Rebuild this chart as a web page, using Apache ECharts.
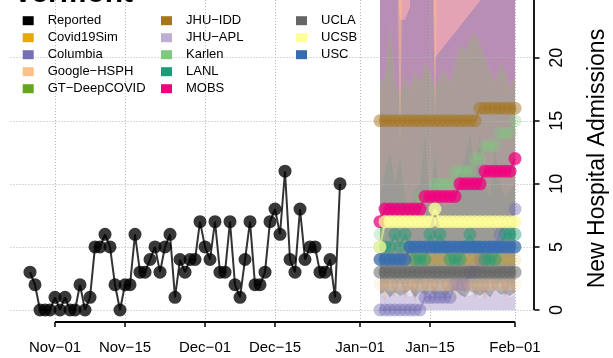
<!DOCTYPE html>
<html><head><meta charset="utf-8">
<script src="https://cdn.jsdelivr.net/npm/echarts@6/dist/echarts.min.js"></script>
<style>html,body{margin:0;padding:0;background:#fff}#c{width:613px;height:358px}</style>
</head><body><div id="c"></div>
<script>
// ---------------- data ----------------
const reportedStart = '2020-10-27';
const reportedValues = [3,2,0,0,0,
  1,0,1,0,0,2,0,1,5,5,6,5,2,0,2,2,6,3,3,4,5,3,5,6,1,4,3,4,4,7,
  5,4,7,3,3,7,2,1,4,7,2,2,3,7,8,6,11,4,3,8,4,5,5,3,3,4,1,10];
const forecastStart = '2021-01-05';
const forecastDays = 28;

const columbiaPts   = [0,0,0,0,0,0,0,0,0,1,1,1,1,1,1,2,2,2,3,3,4,4,5,5,6,7,7,8];
const covid19SimPts = [4,4,4,4,4,4,4,4,4,4,4,4,4,4,4,4,4,4,4,4,4,4,4,4,4,4,4,4];
const googleHsphPts = [2,2,2,2,2,2,2,2,2,2,2,2,2,2,2,2,2,2,2,2,2,2,2,2,2,2,2,2];
const jhuIddPts     = [15,15,15,15,15,15,15,15,15,15,15,15,15,15,15,15,15,15,15,15,16,16,16,16,16,16,16,16];
const karlenPts     = [6,7,7,7,8,8,8,8,9,9,9,10,10,10,10,11,11,11,11,12,12,13,13,13,14,14,14,15];
const lanlPts       = [5,5,5,6,5,6,5,4,4,4,6,5,6,5,4,4,4,5,6,5,5,4,4,4,5,6,6,6];
const mobsPts       = [7,8,8,8,8,8,8,8,8,9,9,9,9,9,9,9,10,10,10,10,10,11,11,11,11,11,11,12];
const uclaPts       = [3,3,3,3,3,3,3,3,3,3,3,3,3,3,3,3,3,3,3,3,3,3,3,3,3,3,3,3];
const ucsbPts       = [5,7,7,7,7,7,7,7,7,7,7,8,7,7,7,7,7,7,7,7,7,7,7,7,7,7,7,7];
const uscPts        = [4,4,4,4,4,4,5,5,5,5,5,5,5,5,5,5,5,5,5,5,5,5,5,5,5,5,5,5];

// prediction interval bounds
const gsphLower  = [1.5,0.7,2.2,1.0,2.4,0.9,1.8,0.6,2.3,1.2,2.0,0.8,2.5,1.1,1.6,0.7,2.2,1.3,2.4,0.9,1.7,0.8,2.1,1.4,2.3,1.0,1.9,1.2];
const gsphUpper  = [40,40,40,40,40,40,40,40,40,40,40,40,40,40,40,40,40,40,40,40,40,40,40,40,40,40,40,40];
const gsphDipLower = [40,40,40,40,13,40,40,40,40,40,40,15,40,40,40,40,40,40,40,40,40,40,40,40,40,40,40,40];
const colLower   = [0,0,0,0,0,0,0,0,0,0,0,0,0,0,0,0,0,0,0,0,0,0,0,0,0,0,0,0];
const colUpper   = [40,40,40,40,40,40,40,40,40,40,40,40,40,40,40,40,40,40,40,40,40,40,40,40,40,40,40,40];
const colHigh    = [40,40,40,30,23,23,24,40,40,40,40,20,20.5,21,21.5,22,22.5,23,23.5,24,24.5,25.5,40,40,40,40,40,40];
const aplUpper   = [1.3,1.0,1.5,1.2,1.1,1.4,1.0,1.3,1.2,1.5,1.1,1.0,1.4,1.2,1.3,1.0,1.5,1.2,1.1,1.4,1.0,1.3,1.2,1.5,1.1,1.4,1.0,1.2];
const lanlLower  = [2.4,1.8,2.6,2.0,2.2,1.7,2.5,2.1,1.9,2.6,2.0,2.3,1.8,2.4,2.1,2.6,1.9,2.2,2.5,1.8,2.3,2.0,2.6,1.9,2.2,2.4,1.8,2.1];
const lanlUpper  = [9,11,12.5,10,12,9,8,9.5,10,14,8.5,12.5,9,8,9,10,11,12,14,11,14,10,9,13,10,9,9.5,10];
const uclaLower  = [1.2,1.5,1.0,1.4,1.1,1.3,1.6,1.0,1.4,1.2,1.5,1.1,1.3,1.0,1.4,1.6,1.2,1.0,1.5,1.3,1.1,1.4,1.0,1.6,1.2,1.3,1.1,1.4];
const uclaUpper  = [18,18.5,22.5,18,17,18.5,17.5,19,18,19.5,19,17.5,18.5,19,18,19.5,21,20.5,21.5,22,21,20,19,18,19.5,19,17.5,18.5];
const mobsUpper  = [40,40,40,40,40,40,40,40,40,40,40,40,40,40,40,40,40,40,40,40,40,40,40,40,40,40,40,40];

const tickDates  = ['2020-11-01','2020-11-15','2020-12-01','2020-12-15','2021-01-01','2021-01-15','2021-02-01'];
const tickLabels = ['Nov\u221201','Nov\u221215','Dec\u221201','Dec\u221215','Jan\u221201','Jan\u221215','Feb\u221201'];
const yTicks = [0,5,10,15,20];

// ---------------- helpers ----------------
const DAY = 86400000, ORIGIN = Date.UTC(2020,10,1);
function dayOf(s){const [y,m,d]=s.split('-').map(Number);return (Date.UTC(y,m-1,d)-ORIGIN)/DAY;}
function dateSeq(start,n){const [y,m,d]=start.split('-').map(Number);const o=[];for(let i=0;i<n;i++){o.push(new Date(Date.UTC(y,m-1,d+i)).toISOString().slice(0,10));}return o;}
const reportedDates = dateSeq(reportedStart, reportedValues.length);
const forecastDates = dateSeq(forecastStart, forecastDays);
const tickX = tickDates.map(dayOf);
const X_MIN=-8.9, X_MAX=95.9, Y_MIN=-0.96, Y_MAX=24.96;
const FONT='"Liberation Sans", Arial, Helvetica, sans-serif';
const M = '\u2212';
const N_GSPH = 'Google'+M+'HSPH', N_GT = 'GT'+M+'DeepCOVID', N_IDD = 'JHU'+M+'IDD', N_APL = 'JHU'+M+'APL';

function ribbon(name, lower, upper, color, opacity){
  const rows = forecastDates.map((d,i)=>[dayOf(d), lower[i], upper[i]]);
  return {type:'custom', name:name, z:1, silent:true, animation:false,
    encode:{x:0, y:[1,2]},
    data:rows,
    renderItem:function(params, api){
      if (params.dataIndex !== 0) return null;
      const top = rows.map(r=>api.coord([r[0], r[2]]));
      const bot = rows.map(r=>api.coord([r[0], r[1]])).reverse();
      const cs = params.coordSys;
      return {type:'group', children:[{type:'polygon', shape:{points:top.concat(bot)},
        style:{fill:color, opacity:opacity}}],
        clipPath:{type:'rect', shape:{x:cs.x, y:cs.y, width:cs.width, height:cs.height}}};
    }};
}
function pts(name, vals, color, opacity){
  return {type:'line', name, z:3, silent:true, animation:false, symbol:'circle', symbolSize:13, showSymbol:true,
    itemStyle:{color, opacity}, lineStyle:{color, width:2, opacity},
    data:forecastDates.map((d,i)=>[dayOf(d), vals[i]])};
}

const C = {};
C['Reported']='#000000'; C['Covid19Sim']='#E6AB02'; C['Columbia']='#7570B3'; C[N_GSPH]='#FDC086'; C[N_GT]='#66A61E';
C[N_IDD]='#A6761D'; C[N_APL]='#BEAED4'; C['Karlen']='#7FC97F'; C['LANL']='#1B9E77'; C['MOBS']='#F0027F';
C['UCLA']='#666666'; C['UCSB']='#FFFF99'; C['USC']='#386CB0';

const series = [
  ribbon('gsphBand', gsphLower, gsphUpper, C[N_GSPH], 0.45),
  ribbon('colBand', colLower, colUpper, C['Columbia'], 0.2),
  ribbon(N_APL, colLower, aplUpper, C[N_APL], 0.4),
  ribbon('lanlBand', lanlLower, lanlUpper, C['LANL'], 0.12),
  ribbon('mobsBand', uclaUpper, mobsUpper, C['MOBS'], 0.2),
  ribbon('colHiBand', uclaUpper, colHigh, C['Columbia'], 0.4),
  ribbon('uclaBand', uclaLower, uclaUpper, C['UCLA'], 0.45),
  ribbon('gsphDip', gsphDipLower, gsphUpper, C[N_GSPH], 0.5),
  {type:'line', name:'grid', z:2, silent:true, animation:false, data:[],
    markLine:{z:2, silent:true, animation:false, symbol:['none','none'], label:{show:false},
      lineStyle:{color:'#b4b4b4', type:[1,2], width:1},
      data:[].concat(
        yTicks.map(v=>({yAxis:v})),
        tickX.map(v=>({xAxis:v})),
        [[{coord:[tickX[0],Y_MIN], lineStyle:{color:'#000',type:'solid',width:1.8}},{coord:[tickX[tickX.length-1],Y_MIN]}],
         [{coord:[X_MAX-0.18,yTicks[0]], lineStyle:{color:'#000',type:'solid',width:1.8}},{coord:[X_MAX-0.18,Y_MAX]}]]
      )}},
  pts('Columbia', columbiaPts, C['Columbia'], 0.45),
  pts('Covid19Sim', covid19SimPts, C['Covid19Sim'], 0.15),
  pts(N_GSPH, googleHsphPts, C[N_GSPH], 0.15),
  {type:'line', name:N_GT, data:[], z:3, itemStyle:{color:C[N_GT]}},
  pts(N_IDD, jhuIddPts, C[N_IDD], 0.5),
  pts('Karlen', karlenPts, C['Karlen'], 0.3),
  pts('LANL', lanlPts, C['LANL'], 0.45),
  pts('UCLA', uclaPts, C['UCLA'], 0.55),
  pts('MOBS', mobsPts, C['MOBS'], 0.75),
  pts('UCSB', ucsbPts, C['UCSB'], 0.75),
  pts('USC', uscPts, C['USC'], 0.75),
  {type:'line', name:'Reported', z:4, silent:true, animation:false, symbol:'circle', symbolSize:13,
   itemStyle:{color:'#000', opacity:0.78}, lineStyle:{color:'#000', width:2, opacity:0.8},
   data:reportedDates.map((d,i)=>[dayOf(d), reportedValues[i]])}
];

function legendCol(names, left){
  return {orient:'vertical', left:left, top:12.2, padding:0, itemGap:0, itemWidth:11, itemHeight:9, icon:'rect',
    selectedMode:false, textStyle:{fontSize:13, color:'#000', fontFamily:FONT, lineHeight:17, padding:[0,0,0,9]},
    data:names.map(n=>({name:n, itemStyle:{color:C[n], opacity:1}}))};
}

const chart = echarts.init(document.getElementById('c'), null, {renderer:'canvas'});
chart.setOption({
  animation:false,
  backgroundColor:'#fff',
  textStyle:{fontFamily:FONT},
  title:{text:'Vermont', left:13, top:-21, padding:0, textStyle:{fontSize:30, fontWeight:'bold', color:'#000', fontFamily:FONT}},
  legend:[
    legendCol(['Reported','Covid19Sim','Columbia',N_GSPH,N_GT], 22.7),
    legendCol([N_IDD,N_APL,'Karlen','LANL','MOBS'], 161),
    legendCol(['UCLA','UCSB','USC'], 296)
  ],
  grid:{left:10.5, right:78.5, top:-4.9, bottom:35.9, containLabel:false, outerBoundsMode:'none'},
  xAxis:{type:'value', min:X_MIN, max:X_MAX,
    axisLine:{show:false, onZero:false}, splitLine:{show:false},
    axisTick:{show:true, customValues:tickX, length:5, lineStyle:{color:'#000', width:1.5}},
    axisLabel:{show:true, customValues:tickX, margin:18, fontSize:15, color:'#000', fontFamily:FONT,
      formatter:v=>tickLabels[tickX.indexOf(v)]}},
  yAxis:{type:'value', position:'right', min:Y_MIN, max:Y_MAX,
    axisLine:{show:false, onZero:false}, splitLine:{show:false},
    axisTick:{show:true, customValues:yTicks, length:5, lineStyle:{color:'#000', width:1.5}},
    axisLabel:{show:true, customValues:yTicks, rotate:90, margin:14, fontSize:18, color:'#000', fontFamily:FONT},
    name:'New Hospital Admissions', nameLocation:'middle', nameGap:52, nameRotate:90,
    nameTextStyle:{fontSize:23, color:'#000', fontFamily:FONT}},
  series:series
});
</script></body></html>
